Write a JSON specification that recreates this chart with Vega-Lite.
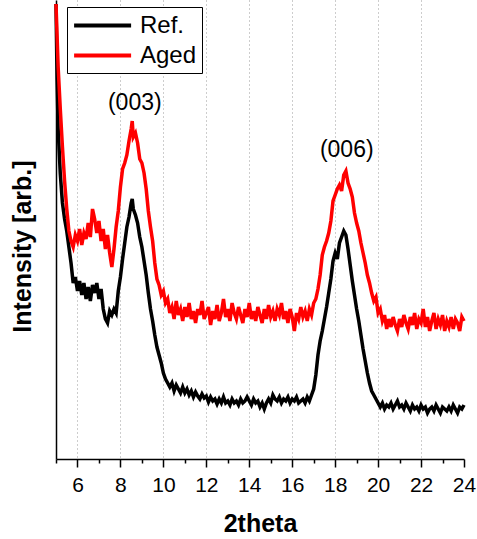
{
  "$schema": "https://vega.github.io/schema/vega-lite/v6.json",
  "width": 408,
  "height": 459,
  "autosize": {"type": "none"},
  "padding": {"left": 56, "top": 0, "right": 13, "bottom": 80},
  "background": "white",
  "config": {
    "view": {"stroke": null},
    "font": "Liberation Sans"
  },
  "datasets": {
    "ref": [
      {"t":5.0,"v":455},{"t":5.05,"v":380},{"t":5.1,"v":330},{"t":5.2,"v":285},{"t":5.3,"v":256},{"t":5.4,"v":240},{"t":5.5,"v":228},{"t":5.6,"v":212},{"t":5.7,"v":196},{"t":5.8,"v":176},{"t":5.9,"v":182},
      {"t":6.0,"v":168},{"t":6.1,"v":178},{"t":6.2,"v":164},{"t":6.3,"v":176},{"t":6.4,"v":160},{"t":6.5,"v":172},{"t":6.6,"v":158},{"t":6.7,"v":174},{"t":6.8,"v":166},{"t":6.9,"v":176},
      {"t":7.0,"v":160},{"t":7.1,"v":170},{"t":7.2,"v":150},{"t":7.3,"v":140},{"t":7.4,"v":136},{"t":7.5,"v":148},{"t":7.6,"v":144},{"t":7.7,"v":150},{"t":7.8,"v":146},{"t":7.9,"v":168},
      {"t":8.0,"v":182},{"t":8.1,"v":200},{"t":8.2,"v":216},{"t":8.3,"v":232},{"t":8.4,"v":242},{"t":8.5,"v":256},{"t":8.55,"v":260},{"t":8.6,"v":250},{"t":8.7,"v":244},{"t":8.8,"v":236},{"t":8.9,"v":222},
      {"t":9.0,"v":212},{"t":9.1,"v":198},{"t":9.2,"v":184},{"t":9.3,"v":166},{"t":9.4,"v":150},{"t":9.5,"v":138},{"t":9.6,"v":124},{"t":9.7,"v":112},{"t":9.8,"v":104},{"t":9.9,"v":96},
      {"t":10.0,"v":86},{"t":10.1,"v":80},{"t":10.2,"v":76},{"t":10.3,"v":72},{"t":10.4,"v":76},{"t":10.5,"v":68},{"t":10.6,"v":74},{"t":10.7,"v":70},{"t":10.8,"v":66},{"t":10.9,"v":72},
      {"t":11.0,"v":66},{"t":11.1,"v":70},{"t":11.2,"v":64},{"t":11.3,"v":68},{"t":11.4,"v":62},{"t":11.5,"v":67},{"t":11.6,"v":63},{"t":11.7,"v":60},{"t":11.8,"v":65},{"t":11.9,"v":61},
      {"t":12.0,"v":63},{"t":12.1,"v":57},{"t":12.2,"v":62},{"t":12.3,"v":58},{"t":12.4,"v":60},{"t":12.5,"v":55},{"t":12.6,"v":60},{"t":12.7,"v":56},{"t":12.8,"v":62},{"t":12.9,"v":56},
      {"t":13.0,"v":58},{"t":13.1,"v":54},{"t":13.2,"v":60},{"t":13.3,"v":56},{"t":13.4,"v":58},{"t":13.5,"v":54},{"t":13.6,"v":60},{"t":13.7,"v":56},{"t":13.8,"v":58},{"t":13.9,"v":62},
      {"t":14.0,"v":58},{"t":14.1,"v":54},{"t":14.2,"v":60},{"t":14.3,"v":56},{"t":14.4,"v":58},{"t":14.5,"v":52},{"t":14.6,"v":56},{"t":14.7,"v":50},{"t":14.8,"v":56},{"t":14.9,"v":60},
      {"t":15.0,"v":56},{"t":15.1,"v":64},{"t":15.2,"v":60},{"t":15.3,"v":58},{"t":15.4,"v":62},{"t":15.5,"v":56},{"t":15.6,"v":60},{"t":15.7,"v":58},{"t":15.8,"v":62},{"t":15.9,"v":56},
      {"t":16.0,"v":60},{"t":16.1,"v":58},{"t":16.2,"v":62},{"t":16.3,"v":56},{"t":16.4,"v":58},{"t":16.5,"v":60},{"t":16.6,"v":56},{"t":16.7,"v":62},{"t":16.8,"v":58},{"t":16.9,"v":64},
      {"t":17.0,"v":70},{"t":17.1,"v":84},{"t":17.2,"v":104},{"t":17.3,"v":118},{"t":17.4,"v":128},{"t":17.5,"v":140},{"t":17.6,"v":152},{"t":17.7,"v":166},{"t":17.8,"v":180},{"t":17.9,"v":198},
      {"t":18.0,"v":206},{"t":18.1,"v":200},{"t":18.2,"v":216},{"t":18.3,"v":222},{"t":18.4,"v":228},{"t":18.5,"v":224},{"t":18.6,"v":210},{"t":18.7,"v":194},{"t":18.8,"v":178},{"t":18.9,"v":164},
      {"t":19.0,"v":150},{"t":19.1,"v":138},{"t":19.2,"v":124},{"t":19.3,"v":110},{"t":19.4,"v":98},{"t":19.5,"v":86},{"t":19.6,"v":76},{"t":19.7,"v":68},{"t":19.8,"v":64},{"t":19.9,"v":60},
      {"t":20.0,"v":56},{"t":20.1,"v":52},{"t":20.2,"v":56},{"t":20.3,"v":50},{"t":20.4,"v":54},{"t":20.5,"v":52},{"t":20.6,"v":56},{"t":20.7,"v":50},{"t":20.8,"v":54},{"t":20.9,"v":58},
      {"t":21.0,"v":52},{"t":21.1,"v":54},{"t":21.2,"v":50},{"t":21.3,"v":56},{"t":21.4,"v":52},{"t":21.5,"v":48},{"t":21.6,"v":54},{"t":21.7,"v":50},{"t":21.8,"v":52},{"t":21.9,"v":48},
      {"t":22.0,"v":54},{"t":22.1,"v":50},{"t":22.2,"v":52},{"t":22.3,"v":46},{"t":22.4,"v":50},{"t":22.5,"v":52},{"t":22.6,"v":48},{"t":22.7,"v":54},{"t":22.8,"v":50},{"t":22.9,"v":46},
      {"t":23.0,"v":52},{"t":23.1,"v":50},{"t":23.2,"v":48},{"t":23.3,"v":52},{"t":23.4,"v":48},{"t":23.5,"v":54},{"t":23.6,"v":50},{"t":23.7,"v":46},{"t":23.8,"v":52},{"t":23.9,"v":50},{"t":24.0,"v":54}
    ],
    "aged": [
      {"t":5.0,"v":455},{"t":5.1,"v":392},{"t":5.2,"v":350},{"t":5.3,"v":312},{"t":5.4,"v":278},{"t":5.5,"v":250},{"t":5.6,"v":228},{"t":5.7,"v":218},{"t":5.8,"v":212},{"t":5.9,"v":224},
      {"t":6.0,"v":218},{"t":6.1,"v":230},{"t":6.2,"v":214},{"t":6.3,"v":226},{"t":6.4,"v":220},{"t":6.5,"v":236},{"t":6.6,"v":222},{"t":6.7,"v":250},{"t":6.8,"v":240},{"t":6.9,"v":226},
      {"t":7.0,"v":238},{"t":7.1,"v":218},{"t":7.2,"v":230},{"t":7.3,"v":210},{"t":7.4,"v":224},{"t":7.5,"v":206},{"t":7.6,"v":192},{"t":7.7,"v":210},{"t":7.8,"v":232},{"t":7.9,"v":248},
      {"t":8.0,"v":272},{"t":8.1,"v":290},{"t":8.2,"v":296},{"t":8.3,"v":304},{"t":8.4,"v":318},{"t":8.5,"v":330},{"t":8.55,"v":338},{"t":8.6,"v":322},{"t":8.7,"v":326},{"t":8.8,"v":316},{"t":8.9,"v":300},
      {"t":9.0,"v":296},{"t":9.1,"v":286},{"t":9.2,"v":270},{"t":9.3,"v":248},{"t":9.4,"v":232},{"t":9.5,"v":218},{"t":9.6,"v":196},{"t":9.7,"v":180},{"t":9.8,"v":174},{"t":9.9,"v":164},
      {"t":10.0,"v":168},{"t":10.1,"v":156},{"t":10.2,"v":160},{"t":10.3,"v":146},{"t":10.4,"v":152},{"t":10.5,"v":140},{"t":10.6,"v":158},{"t":10.7,"v":144},{"t":10.8,"v":150},{"t":10.9,"v":138},
      {"t":11.0,"v":152},{"t":11.1,"v":142},{"t":11.2,"v":156},{"t":11.3,"v":140},{"t":11.4,"v":148},{"t":11.5,"v":136},{"t":11.6,"v":150},{"t":11.7,"v":144},{"t":11.8,"v":158},{"t":11.9,"v":140},
      {"t":12.0,"v":146},{"t":12.1,"v":152},{"t":12.2,"v":134},{"t":12.3,"v":148},{"t":12.4,"v":140},{"t":12.5,"v":154},{"t":12.6,"v":138},{"t":12.7,"v":146},{"t":12.8,"v":160},{"t":12.9,"v":142},
      {"t":13.0,"v":150},{"t":13.1,"v":138},{"t":13.2,"v":156},{"t":13.3,"v":146},{"t":13.4,"v":140},{"t":13.5,"v":152},{"t":13.6,"v":144},{"t":13.7,"v":136},{"t":13.8,"v":150},{"t":13.9,"v":142},
      {"t":14.0,"v":156},{"t":14.1,"v":140},{"t":14.2,"v":148},{"t":14.3,"v":138},{"t":14.4,"v":152},{"t":14.5,"v":144},{"t":14.6,"v":136},{"t":14.7,"v":150},{"t":14.8,"v":140},{"t":14.9,"v":154},
      {"t":15.0,"v":142},{"t":15.1,"v":148},{"t":15.2,"v":138},{"t":15.3,"v":150},{"t":15.4,"v":144},{"t":15.5,"v":156},{"t":15.6,"v":140},{"t":15.7,"v":148},{"t":15.8,"v":136},{"t":15.9,"v":150},
      {"t":16.0,"v":142},{"t":16.1,"v":128},{"t":16.2,"v":146},{"t":16.3,"v":140},{"t":16.4,"v":152},{"t":16.5,"v":142},{"t":16.6,"v":148},{"t":16.7,"v":138},{"t":16.8,"v":150},{"t":16.9,"v":144},
      {"t":17.0,"v":156},{"t":17.1,"v":160},{"t":17.2,"v":170},{"t":17.3,"v":184},{"t":17.4,"v":204},{"t":17.5,"v":212},{"t":17.6,"v":218},{"t":17.7,"v":226},{"t":17.8,"v":238},{"t":17.9,"v":258},
      {"t":18.0,"v":264},{"t":18.1,"v":270},{"t":18.2,"v":274},{"t":18.3,"v":268},{"t":18.4,"v":284},{"t":18.5,"v":288},{"t":18.6,"v":276},{"t":18.7,"v":270},{"t":18.8,"v":262},{"t":18.9,"v":246},
      {"t":19.0,"v":236},{"t":19.1,"v":228},{"t":19.2,"v":216},{"t":19.3,"v":206},{"t":19.4,"v":196},{"t":19.5,"v":184},{"t":19.6,"v":176},{"t":19.7,"v":166},{"t":19.8,"v":158},{"t":19.9,"v":162},
      {"t":20.0,"v":146},{"t":20.1,"v":150},{"t":20.2,"v":138},{"t":20.3,"v":144},{"t":20.4,"v":130},{"t":20.5,"v":140},{"t":20.6,"v":132},{"t":20.7,"v":142},{"t":20.8,"v":134},{"t":20.9,"v":128},
      {"t":21.0,"v":140},{"t":21.1,"v":132},{"t":21.2,"v":144},{"t":21.3,"v":136},{"t":21.4,"v":130},{"t":21.5,"v":142},{"t":21.6,"v":134},{"t":21.7,"v":146},{"t":21.8,"v":130},{"t":21.9,"v":140},
      {"t":22.0,"v":136},{"t":22.1,"v":150},{"t":22.2,"v":132},{"t":22.3,"v":142},{"t":22.4,"v":128},{"t":22.5,"v":138},{"t":22.6,"v":146},{"t":22.7,"v":130},{"t":22.8,"v":140},{"t":22.9,"v":134},
      {"t":23.0,"v":144},{"t":23.1,"v":128},{"t":23.2,"v":138},{"t":23.3,"v":132},{"t":23.4,"v":142},{"t":23.5,"v":130},{"t":23.6,"v":140},{"t":23.7,"v":136},{"t":23.8,"v":128},{"t":23.9,"v":142},{"t":24.0,"v":138}
    ],
    "labels": [
      {"t":8.67,"v":356,"label":"(003)"},
      {"t":18.54,"v":309,"label":"(006)"}
    ]
  },
  "encoding": {
    "x": {
      "field": "t",
      "type": "quantitative",
      "scale": {"domain": [5, 24], "nice": false, "zero": false},
      "axis": {
        "title": "2theta",
        "titleFont": "Liberation Sans",
        "titleFontSize": 25,
        "titleFontWeight": "bold",
        "titleColor": "black",
        "titleBaseline": "alphabetic",
        "titleY": 72,
        "values": [5,6,7,8,9,10,11,12,13,14,15,16,17,18,19,20,21,22,23,24],
        "labelExpr": "datum.value % 2 == 0 ? datum.label : ''",
        "labelFont": "Liberation Sans",
        "labelFontSize": 21,
        "labelColor": "black",
        "labelPadding": 7,
        "labelFlush": false,
        "labelOverlap": false,
        "domainColor": "black",
        "domainWidth": 1.5,
        "tickColor": "black",
        "tickWidth": 1.5,
        "tickSize": {"condition": {"test": "datum.value % 2 == 0", "value": 8}, "value": 4},
        "grid": true,
        "gridColor": "#9a9a9a",
        "gridDash": [1, 3],
        "gridWidth": 1,
        "gridOpacity": {"condition": {"test": "datum.value % 2 == 0 && datum.value < 24", "value": 1}, "value": 0}
      }
    },
    "y": {
      "field": "v",
      "type": "quantitative",
      "scale": {"domain": [0, 459], "nice": false, "zero": false},
      "axis": {
        "title": "Intensity [arb.]",
        "titleFont": "Liberation Sans",
        "titleFontSize": 25,
        "titleFontWeight": "bold",
        "titleColor": "black",
        "titleAngle": -90,
        "titleAlign": "center",
        "titleBaseline": "middle",
        "titleX": -34,
        "titleY": 246,
        "labels": false,
        "ticks": false,
        "grid": false,
        "domainColor": "black",
        "domainWidth": 1.5
      }
    }
  },
  "layer": [
    {
      "data": {"name": "ref"},
      "mark": {"type": "line", "strokeWidth": 3.5, "interpolate": "linear"},
      "encoding": {
        "color": {
          "datum": "Ref.",
          "type": "nominal",
          "scale": {"domain": ["Ref.", "Aged"], "range": ["#000000", "#ff0000"]},
          "legend": {
            "title": null,
            "orient": "none",
            "legendX": 11,
            "legendY": 7,
            "strokeColor": "black",
            "fillColor": "white",
            "padding": 5,
            "symbolType": "M-1,0H4",
            "symbolSize": 520,
            "symbolStrokeWidth": 4,
            "labelFont": "Liberation Sans",
            "labelFontSize": 24,
            "labelColor": "black",
            "labelOffset": 41,
            "rowPadding": 4
          }
        }
      }
    },
    {
      "data": {"name": "aged"},
      "mark": {"type": "line", "strokeWidth": 3.5, "interpolate": "linear"},
      "encoding": {
        "color": {"datum": "Aged", "type": "nominal"}
      }
    },
    {
      "data": {"name": "labels"},
      "mark": {"type": "text", "font": "Liberation Sans", "fontSize": 23, "color": "black", "align": "center", "baseline": "middle"},
      "encoding": {
        "text": {"field": "label", "type": "nominal"}
      }
    }
  ]
}
